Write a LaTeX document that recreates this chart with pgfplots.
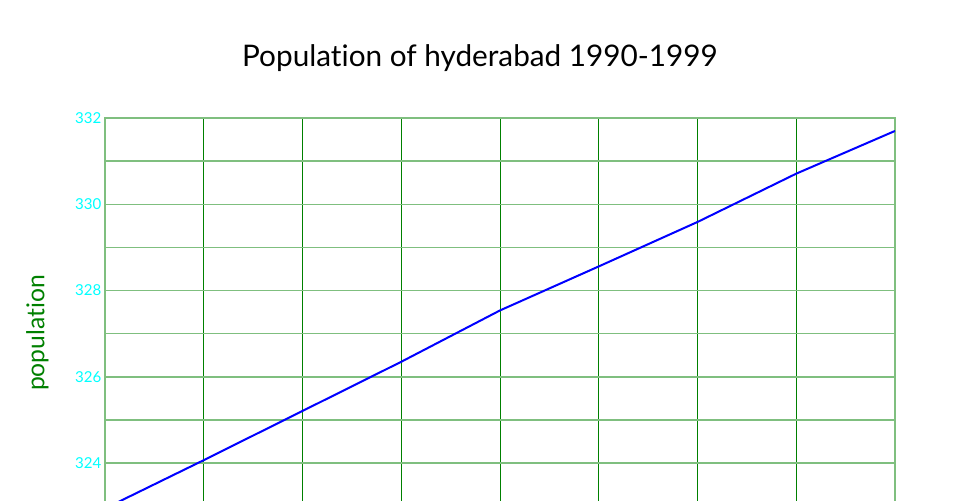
\documentclass[border=0pt]{standalone}
\usepackage{fontspec}
\setmainfont{Lato}[Ligatures=NoCommon]
\usepackage{pgfplots}
\pgfplotsset{compat=1.18}
\definecolor{hgrid}{RGB}{127,191,127}
\definecolor{vgrid}{RGB}{0,128,0}
\definecolor{tickc}{RGB}{0,255,255}
\begin{document}
\begin{tikzpicture}[x=1pt,y=1pt]
\path[use as bounding box] (0,0) rectangle (720,375);
\clip (0,0) rectangle (720,375);
\begin{axis}[
  at={(78.75pt,286.5pt)}, anchor=north west,
  scale only axis, width=592.5pt, height=323.6pt,
  xmin=0, xmax=8, ymin=322, ymax=332,
  xtick={0,...,8}, xticklabels={},
  ytick={324,326,...,332},
  minor ytick={323,325,...,331},
  xmajorgrids, ymajorgrids, yminorgrids,
  major x grid style={vgrid, line width=0.75pt},
  major y grid style={hgrid, line width=1.1pt},
  minor y grid style={hgrid, line width=1.1pt},
  axis line style={hgrid, line width=1.1pt},
  major tick length=0pt, minor tick length=0pt,
  /pgf/number format/assume math mode=true,
  yticklabel style={tickc, font=\fontsize{11.3}{13}\selectfont, anchor=east, inner sep=0pt, xshift=-2.5pt},
  clip=true,
]
\addplot[blue, line width=1.5pt] coordinates {
(0,322.95) (1,324.07) (2,325.21) (3,326.35) (4,327.54) (5,328.56) (6,329.59) (7,330.71) (8,331.70)
};
\end{axis}
\node[anchor=base, font=\fontsize{22.3}{26}\selectfont] at (360,324.75) {Population of hyderabad 1990-1999};
\node[rotate=90, anchor=center, text=vgrid, font=\fontsize{18.5}{22}\selectfont] at (28,125.25) {population};
\end{tikzpicture}
\end{document}
